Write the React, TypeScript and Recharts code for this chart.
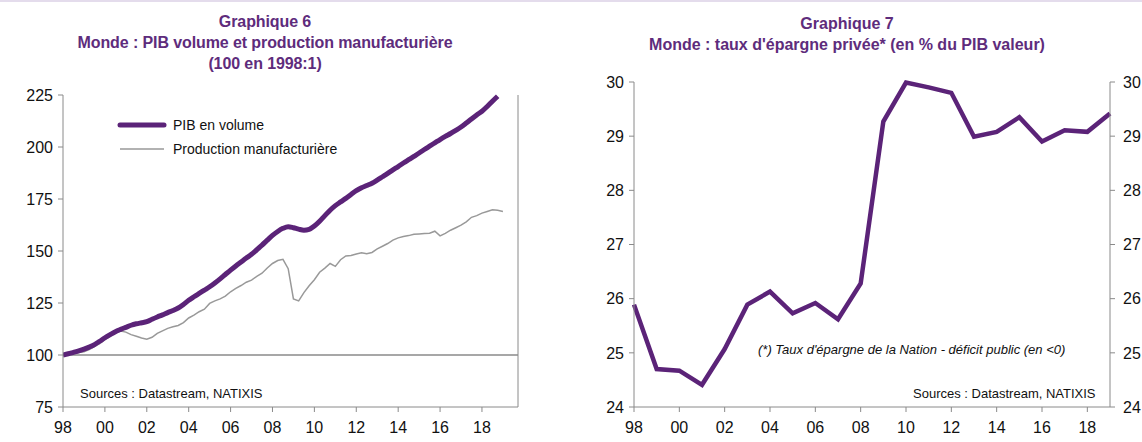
import React from "react";
import { LineChart, Line, XAxis, YAxis, ReferenceLine } from "recharts";

// Graphique 6 : quarterly index, 100 = 1998:1
const pibVolume = [
  100.0, 100.6, 101.3, 102.0,
  102.8, 103.8, 105.0, 106.6,
  108.3, 109.8, 111.2, 112.3,
  113.3, 114.3, 115.0, 115.5,
  116.0, 117.2, 118.3, 119.3,
  120.4, 121.4, 122.6, 124.3,
  126.3, 128.0, 129.6, 131.2,
  132.8, 134.6, 136.6, 138.7,
  140.8, 142.8, 144.7, 146.6,
  148.4, 150.6, 152.8, 155.2,
  157.5, 159.4, 160.9, 161.7,
  161.2, 160.5, 160.0, 160.4,
  162.0, 164.3, 167.0, 169.6,
  171.8, 173.6, 175.3, 177.2,
  179.0, 180.4, 181.5, 182.6,
  184.1, 185.7, 187.3, 189.0,
  190.6, 192.3, 193.9, 195.5,
  197.1, 198.8, 200.4, 202.0,
  203.6, 205.1, 206.5, 208.0,
  209.6, 211.5, 213.5, 215.4,
  217.2, 219.5, 222.0, 224.4,
];

const productionManuf = [
  99.8, 100.2, 100.6, 101.2,
  101.6, 102.6, 104.0, 105.5,
  107.4, 109.0, 110.6, 111.5,
  111.0, 109.8, 109.0, 108.2,
  107.6, 108.5, 110.4, 111.6,
  112.8, 113.6, 114.2, 115.6,
  117.8, 119.2, 120.8, 122.0,
  124.8, 126.0, 127.0, 128.3,
  130.4, 132.0, 133.4, 135.0,
  136.0, 137.8, 139.3, 141.8,
  144.0, 145.4, 146.0, 141.5,
  127.0, 126.0, 130.0, 133.3,
  136.2, 139.8, 141.8, 144.0,
  142.6, 145.8, 147.6, 147.8,
  148.6, 149.2, 148.7, 149.3,
  151.0, 152.3, 153.6, 155.2,
  156.3, 157.0, 157.4, 158.0,
  158.2, 158.4, 158.5, 159.5,
  157.3, 158.5, 160.0, 161.2,
  162.4, 164.0, 166.2, 167.0,
  168.2, 169.0, 169.8, 169.6,
  169.0,
];

const yearTicks = [1998, 2000, 2002, 2004, 2006, 2008, 2010, 2012, 2014, 2016, 2018];
const indexTicks = [75, 100, 125, 150, 175, 200, 225];

// Graphique 7 : annual, % of GDP
const years = [
  1998, 1999, 2000, 2001, 2002, 2003, 2004, 2005, 2006, 2007, 2008,
  2009, 2010, 2011, 2012, 2013, 2014, 2015, 2016, 2017, 2018, 2019,
];
const tauxEpargne = [
  25.89, 24.7, 24.67, 24.41, 25.07, 25.89, 26.13, 25.73, 25.92, 25.62, 26.28,
  29.27, 29.99, 29.9, 29.8, 28.99, 29.08, 29.35, 28.9, 29.11, 29.08, 29.42,
];
const pctTicks = [24, 25, 26, 27, 28, 29, 30];

const FONT = "Arial, 'Liberation Sans', sans-serif";
const PURPLE = "#5B2378";
const TITLE = "#5E2C7C";
const AXIS = "#8a8a8a";

const data6 = productionManuf.map((v, i) => ({
  t: 1998 + i / 4,
  pib: pibVolume[i],
  manuf: v,
}));

const data7 = years.map((y, i) => ({ year: y, taux: tauxEpargne[i], taux2: tauxEpargne[i] }));

const yy = (v: number) => String(v % 100).padStart(2, "0");

const tickStyle = { fontSize: 16, fill: "#111", fontFamily: FONT };

const titleStyle: React.CSSProperties = {
  position: "absolute",
  color: TITLE,
  fontFamily: FONT,
  fontWeight: "bold",
  fontSize: 16,
  lineHeight: "21px",
  textAlign: "center",
  whiteSpace: "nowrap",
};

const noteStyle: React.CSSProperties = {
  position: "absolute",
  fontFamily: FONT,
  fontSize: 13,
  color: "#111",
  whiteSpace: "nowrap",
};

export default function App() {
  return (
    <div
      style={{
        position: "absolute",
        left: 0,
        top: 0,
        width: 1142,
        height: 442,
        background: "#fff",
        overflow: "hidden",
        borderTop: "2px solid #e4dcec",
        boxSizing: "border-box",
      }}
    >
      <div style={{ ...titleStyle, left: 0, width: 530, top: 9, letterSpacing: -0.1 }}>
        Graphique 6
        <br />
        Monde : PIB volume et production manufacturière
        <br />
        (100 en 1998:1)
      </div>
      <div style={{ ...titleStyle, left: 571, width: 552, top: 11 }}>
        Graphique 7
        <br />
        Monde : taux d'épargne privée* (en % du PIB valeur)
      </div>

      <div style={{ position: "absolute", left: 0, top: -2, width: 571, height: 442 }}>
        <LineChart width={571} height={442} data={data6} margin={{ top: 95, right: 0, bottom: 0, left: 0 }}>
          <XAxis
            dataKey="t"
            type="number"
            domain={[1998, 2019.72]}
            ticks={yearTicks}
            tickFormatter={yy}
            stroke={AXIS}
            tick={tickStyle}
            tickSize={5}
            tickMargin={10}
            height={35}
            allowDataOverflow
          />
          <YAxis
            yAxisId="left"
            domain={[75, 225]}
            ticks={indexTicks}
            stroke={AXIS}
            tick={tickStyle}
            tickSize={5}
            tickMargin={5}
            width={63}
            interval={0}
          />
          <YAxis
            yAxisId="right"
            orientation="right"
            domain={[75, 225]}
            ticks={indexTicks}
            stroke={AXIS}
            tick={tickStyle}
            tickSize={5}
            tickMargin={5}
            width={53}
            interval={0}
          />
          <ReferenceLine yAxisId="left" y={100} stroke={AXIS} strokeWidth={1.5} />
          <Line
            yAxisId="left"
            dataKey="manuf"
            type="linear"
            stroke="#999"
            strokeWidth={1.5}
            dot={false}
            isAnimationActive={false}
          />
          <Line
            yAxisId="left"
            dataKey="pib"
            type="monotone"
            stroke={PURPLE}
            strokeWidth={5}
            dot={false}
            isAnimationActive={false}
          />
        </LineChart>
      </div>

      <div style={{ position: "absolute", left: 571, top: -2, width: 571, height: 442 }}>
        <LineChart width={571} height={442} data={data7} margin={{ top: 82, right: 0, bottom: 0, left: 0 }}>
          <XAxis
            dataKey="year"
            type="number"
            domain={[1998, 2019]}
            ticks={yearTicks}
            tickFormatter={yy}
            stroke={AXIS}
            tick={tickStyle}
            tickSize={5}
            tickMargin={10}
            height={35}
          />
          <YAxis
            yAxisId="left"
            domain={[24, 30]}
            ticks={pctTicks}
            stroke={AXIS}
            tick={tickStyle}
            tickSize={5}
            tickMargin={5}
            width={63}
            interval={0}
          />
          <YAxis
            yAxisId="right"
            orientation="right"
            domain={[24, 30]}
            ticks={pctTicks}
            stroke={AXIS}
            tick={{ ...tickStyle, textAnchor: "start" }}
            tickSize={5}
            tickMargin={8}
            width={32}
            interval={0}
          />
          {/* invisible series so the right-hand axis is drawn */}
          <Line
            yAxisId="right"
            dataKey="taux2"
            stroke="none"
            dot={false}
            legendType="none"
            isAnimationActive={false}
          />
          <Line
            yAxisId="left"
            dataKey="taux"
            type="linear"
            stroke={PURPLE}
            strokeWidth={4.5}
            dot={false}
            isAnimationActive={false}
          />
        </LineChart>
      </div>

      {/* legend, graphique 6 */}
      <svg style={{ position: "absolute", left: 0, top: 0 }} width={571} height={200}>
        <line x1={120} y1={123} x2={164} y2={123} stroke={PURPLE} strokeWidth={5} strokeLinecap="round" />
        <line x1={120} y1={147} x2={164} y2={147} stroke="#999" strokeWidth={1.5} />
        <text x={173} y={128} fontSize={14} fontFamily={FONT} fill="#111">PIB en volume</text>
        <text x={173} y={152} fontSize={14} fontFamily={FONT} fill="#111">Production manufacturière</text>
      </svg>

      <div style={{ ...noteStyle, left: 80, top: 384 }}>Sources  : Datastream,  NATIXIS</div>
      <div style={{ ...noteStyle, left: 758, top: 340, fontStyle: "italic" }}>
        (*) Taux d'épargne de la Nation - déficit public (en &lt;0)
      </div>
      <div style={{ ...noteStyle, left: 913, top: 384 }}>Sources  : Datastream,  NATIXIS</div>
    </div>
  );
}
